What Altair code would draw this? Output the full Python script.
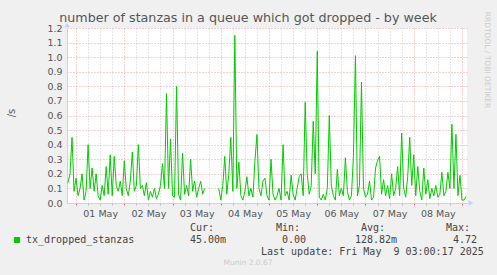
import altair as alt
import pandas as pd

# hours since 01 May 00:00, hourly samples
start_hour = -4
rate = [
    0.14, 0.20, 0.45, 0.08,
    0.17, 0.05, 0.10, 0.20, 0.02, 0.08, 0.40, 0.10, 0.24, 0.08, 0.20, 0.05, 0.02, 0.12, 0.05, 0.25, 0.06, 0.33, 0.05, 0.32, 0.12, 0.08, 0.15, 0.05,
    0.29, 0.10, 0.05, 0.15, 0.35, 0.08, 0.12, 0.40, 0.10, 0.12, 0.05, 0.14, 0.02, 0.08, 0.04, 0.10, 0.03, 0.06, 0.12, 0.27, 0.10, 0.75, 0.10, 0.44,
    0.05, 0.04, 0.80, 0.06, 0.02, 0.34, 0.06, 0.12, 0.05, 0.30, 0.08, 0.15, 0.04, 0.10, 0.15, 0.06, 0.10, None, None, None, None, None, None, 0.10,
    0.02, 0.12, 0.32, 0.06, 0.20, 0.45, 0.08, 1.15, 0.10, 0.28, 0.05, 0.02, 0.08, 0.18, 0.05, 0.10, 0.04, 0.29, 0.47, 0.10, 0.05, 0.15, 0.17, 0.05,
    0.02, 0.30, 0.06, 0.02, 0.05, 0.10, 0.02, 0.40, 0.05, 0.08, 0.02, 0.19, 0.06, 0.02, 0.10, 0.18, 0.20, 0.05, 0.69, 0.20, 0.06, 0.12, 0.56, 0.20,
    1.04, 0.04, 0.02, 0.06, 0.02, 0.10, 0.60, 0.12, 0.05, 0.02, 0.23, 0.05, 0.10, 0.05, 0.31, 0.08, 0.02, 0.05, 0.32, 1.01, 0.05, 0.12, 0.83, 0.10,
    0.04, 0.06, 0.15, 0.02, 0.04, 0.24, 0.29, 0.32, 0.06, 0.16, 0.05, 0.12, 0.03, 0.20, 0.05, 0.10, 0.25, 0.05, 0.48, 0.10, 0.04, 0.18, 0.45, 0.12,
    0.33, 0.05, 0.25, 0.08, 0.02, 0.24, 0.06, 0.16, 0.03, 0.10, 0.05, 0.12, 0.04, 0.06, 0.21, 0.05, 0.08, 0.21, 0.10, 0.54, 0.10, 0.47, 0.05, 0.19,
    0.02, 0.02, 0.045,
]
hours = list(range(start_hour, start_hour + len(rate)))
grid_hours = list(range(0, 193, 6))
y_ticks = [round(i * 0.1, 1) for i in range(13)]

title_text = "number of stanzas in a queue which got dropped - by week"
series_name = "tx_dropped_stanzas"
stat_labels = ["Cur:", "Min:", "Avg:", "Max:"]
stat_values = ["45.00m", "0.00", "128.82m", "4.72"]
last_update = "Last update: Fri May\u00a0 9 03:00:17 2025"
footer = "Munin 2.0.67"
side_text = "RRDTOOL / TOBI OETIKER"

rows = []
seg = 0
for h, v in zip(hours, rate):
    if v is None:
        seg += 1
        continue
    rows.append({"hour": h, "rate": v, "seg": seg})
df = pd.DataFrame(rows)

W, H = 400, 175
TXT = "#555555"

xscale = alt.Scale(domain=[-4.5, 194.5], nice=False, zero=False)
yscale = alt.Scale(domain=[0, 1.2], nice=False)

line = alt.Chart(df).mark_line(color="#00cc00", strokeWidth=1, clip=True).encode(
    x=alt.X("hour:Q", scale=xscale, title=None,
            axis=alt.Axis(values=grid_hours, grid=True,
                          gridColor=alt.expr("datum.value % 24 === 0 ? '#eba3a3' : '#cfcfcf'"),
                          gridDash=[1, 2], gridWidth=1,
                          tickColor=alt.expr("datum.value % 24 === 0 ? '#e06060' : '#bbbbbb'"),
                          tickSize=2,
                          labelExpr="datum.value % 24 === 12 ? '0' + (floor(datum.value / 24) + 1) + ' May' : ''",
                          labelFont="DejaVu Sans", labelFontSize=9.5, labelColor=TXT,
                          labelPadding=3, labelFlush=False,
                          domainColor="#ccccff", domainWidth=1)),
    y=alt.Y("rate:Q", scale=yscale, title=None,
            axis=alt.Axis(values=y_ticks, format=".1f", grid=True,
                          gridColor="#eba3a3", gridDash=[1, 2], gridWidth=1,
                          ticks=False, labelPadding=5,
                          labelFont="DejaVu Sans", labelFontSize=9.5, labelColor=TXT,
                          domainColor="#ccccff", domainWidth=1)),
    detail="seg:N",
)

def txt(text, x, y, **kw):
    params = dict(font="DejaVu Sans Mono", fontSize=10, color="#444444", align="left", baseline="middle")
    params.update(kw)
    return alt.Chart(pd.DataFrame({"t": [text]})).mark_text(**params).encode(
        text="t:N", x=alt.value(x), y=alt.value(y))

layers = [line]
layers.append(txt(title_text, 181, -10, font="DejaVu Sans", fontSize=12.7, color=TXT, align="center"))
layers.append(txt("/s", -55, 85, font="DejaVu Sans", fontSize=10, color=TXT, align="center", angle=270))
layers.append(txt(side_text, 420, 32, font="DejaVu Sans", fontSize=7.5, color="#cccccc", align="center", angle=90))
layers.append(txt(series_name, -41, 212))
for lab, val, lx, vx in zip(stat_labels, stat_values, [123, 209, 294, 379], [123, 215, 288, 386]):
    layers.append(txt(lab, lx, 200))
    layers.append(txt(val, vx, 212))
layers.append(txt(last_update, 194, 224))
layers.append(txt(footer, 181, 235, font="DejaVu Sans", fontSize=7.5, color="#cccccc", align="center"))

square = alt.Chart(pd.DataFrame({"s": [series_name]})).mark_square(
    color="#00cc00", size=36, opacity=1, filled=True).encode(
    x=alt.value(-50), y=alt.value(212))
arrow_up = alt.Chart(pd.DataFrame({"s": ["y"]})).mark_point(
    shape="triangle-up", size=30, filled=True, color="#ccccff", opacity=1).encode(
    x=alt.value(0), y=alt.value(-3))
arrow_right = alt.Chart(pd.DataFrame({"s": ["x"]})).mark_point(
    shape="triangle-right", size=30, filled=True, color="#ccccff", opacity=1).encode(
    x=alt.value(404), y=alt.value(H))
layers += [square, arrow_up, arrow_right]

chart = alt.layer(*layers).properties(
    width=W, height=H,
    background="#f0f0f0",
    padding={"left": 67, "top": 28, "right": 30, "bottom": 72},
    autosize=alt.AutoSizeParams(type="none"),
).configure_view(fill="white", strokeWidth=0)

chart.save("out.html", embed_options={"renderer": "svg", "actions": False})
